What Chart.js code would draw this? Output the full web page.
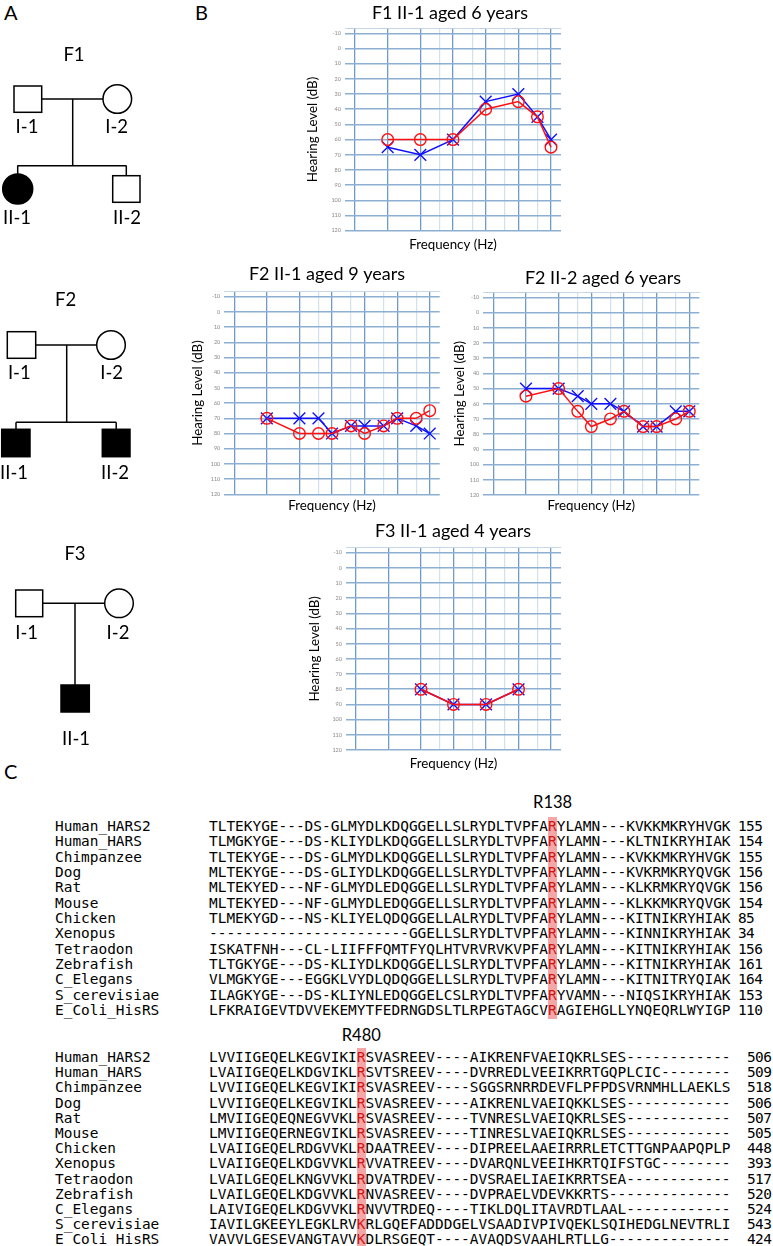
<!DOCTYPE html>
<html><head><meta charset="utf-8">
<script src="https://cdn.jsdelivr.net/npm/chart.js@4.4.1/dist/chart.umd.min.js"></script>
<style>
html,body{margin:0;padding:0;background:#fff;}
body{width:773px;height:1246px;position:relative;overflow:hidden;font-family:Lato,'Open Sans',sans-serif;}
.t{position:absolute;white-space:pre;color:#000;}
.panel{font-family:Lato,sans-serif;font-size:20px;line-height:20px;}
.mono{font-family:'DejaVu Sans Mono',monospace;font-size:14.45px;line-height:16px;}
.hlc{position:absolute;background:#f5a7a7;}
.red{color:#d01515;}
.site{font-family:Lato,sans-serif;font-size:16.5px;line-height:16px;}
</style></head><body>
<script>
// ---------------- DATA ----------------
const FREQ_VALUES = [125, 250, 500, 750, 1000, 1500, 2000, 3000, 4000, 6000, 8000];
const FREQ_LABELS = ['125', '250', '500', '750', '1K', '1.5K', '2K', '3K', '4K', '6K', '8K'];
const DB_TICKS = [-10, 0, 10, 20, 30, 40, 50, 60, 70, 80, 90, 100, 110, 120];

const f1_freq  = [250, 500, 1000, 2000, 4000, 6000, 8000];
const f1_right = [60, 60, 60, 40, 35, 45, 65];
const f1_left  = [65, 70, 60, 35, 30, 45, 60];

const f2a_freq  = [250, 500, 750, 1000, 1500, 2000, 3000, 4000, 6000, 8000];
const f2a_right = [70, 80, 80, 80, 75, 80, 75, 70, 70, 65];
const f2a_left  = [70, 70, 70, 80, 75, 75, 75, 70, 75, 80];

const f2b_freq  = [250, 500, 750, 1000, 1500, 2000, 3000, 4000, 6000, 8000];
const f2b_right = [55, 50, 65, 75, 70, 65, 75, 75, 70, 65];
const f2b_left  = [50, 50, 55, 60, 60, 65, 75, 75, 65, 65];

const f3_freq  = [500, 1000, 2000, 4000];
const f3_right = [80, 90, 90, 80];
const f3_left  = [80, 90, 90, 80];

const SPECIES = ['Human_HARS2','Human_HARS','Chimpanzee','Dog','Rat','Mouse','Chicken','Xenopus','Tetraodon','Zebrafish','C_Elegans','S_cerevisiae','E_Coli_HisRS'];
const SEQ1 = [
 'TLTEKYGE---DS-GLMYDLKDQGGELLSLRYDLTVPFARYLAMN---KVKKMKRYHVGK',
 'TLMGKYGE---DS-KLIYDLKDQGGELLSLRYDLTVPFARYLAMN---KLTNIKRYHIAK',
 'TLTEKYGE---DS-GLMYDLKDQGGELLSLRYDLTVPFARYLAMN---KVKKMKRYHVGK',
 'MLTEKYGE---DS-GLIYDLKDQGGELLSLRYDLTVPFARYLAMN---KVKRMKRYQVGK',
 'MLTEKYED---NF-GLMYDLEDQGGELLSLRYDLTVPFARYLAMN---KLKRMKRYQVGK',
 'MLTEKYED---NF-GLMYDLEDQGGELLSLRYDLTVPFARYLAMN---KLKKMKRYQVGK',
 'TLMEKYGD---NS-KLIYELQDQGGELLALRYDLTVPFARYLAMN---KITNIKRYHIAK',
 '-----------------------GGELLSLRYDLTVPFARYLAMN---KINNIKRYHIAK',
 'ISKATFNH---CL-LIIFFFQMTFYQLHTVRVRVKVPFARYLAMN---KITNIKRYHIAK',
 'TLTGKYGE---DS-KLIYDLKDQGGELLSLRYDLTVPFARYLAMN---KITNIKRYHIAK',
 'VLMGKYGE---EGGKLVYDLQDQGGELLSLRYDLTVPFARYLAMN---KITNITRYQIAK',
 'ILAGKYGE---DS-KLIYNLEDQGGELCSLRYDLTVPFARYVAMN---NIQSIKRYHIAK',
 'LFKRAIGEVTDVVEKEMYTFEDRNGDSLTLRPEGTAGCVRAGIEHGLLYNQEQRLWYIGP'];
const NUM1 = [155,154,155,156,156,154,85,34,156,161,164,153,110];
const SEQ2 = [
 'LVVIIGEQELKEGVIKIRSVASREEV----AIKRENFVAEIQKRLSES------------',
 'LVAIIGEQELKDGVIKLRSVTSREEV----DVRREDLVEEIKRRTGQPLCIC--------',
 'LVVIIGEQELKEGVIKIRSVASREEV----SGGSRNRRDEVFLPFPDSVRNMHLLAEKLS',
 'LVVIIGEQELKEGVIKLRSVASREEV----AIKRENLVAEIQKKLSES------------',
 'LMVIIGEQEQNEGVVKLRSVASREEV----TVNRESLVAEIQKRLSES------------',
 'LMVIIGEQERNEGVIKLRSVASREEV----TINRESLVAEIQKRLSES------------',
 'LVAIIGEQELRDGVVKLRDAATREEV----DIPREELAAEIRRRLETCTTGNPAAPQPLP',
 'LVAIIGEQELKDGVVKLRVVATREEV----DVARQNLVEEIHKRTQIFSTGC--------',
 'LVAILGEQELKNGVVKLRDVATRDEV----DVSRAELIAEIKRRTSEA------------',
 'LVAILGEQELKDGVVKLRNVASREEV----DVPRAELVDEVKKRTS--------------',
 'LAIVIGEQELKDGVVKLRNVVTRDEQ----TIKLDQLITAVRDTLAAL------------',
 'IAVILGKEEYLEGKLRVKRLGQEFADDDGELVSAADIVPIVQEKLSQIHEDGLNEVTRLI',
 'VAVVLGESEVANGTAVVKDLRSGEQT----AVAQDSVAAHLRTLLG--------------'];
const NUM2 = [506,509,518,506,507,505,448,393,517,520,524,543,424];

// ---------------- LAYOUT (page positions) ----------------
const LAYOUTS = {
  c1: {areaL:345,   areaR:561,   areaT:28.3,  areaB:230.7, titleCx:450, titleCy:13,  yTitleCx:313, xTitleCy:245},
  c2: {areaL:224.3, areaR:439.7, areaT:291.7, areaB:494.3, titleCx:327, titleCy:274, yTitleCx:198, xTitleCy:506},
  c3: {areaL:483.3, areaR:699.3, areaT:292.3, areaB:495,   titleCx:603, titleCy:278, yTitleCx:460, xTitleCy:506},
  c4: {areaL:346,   areaR:561,   areaT:547.7, areaB:750,   titleCx:453, titleCy:531, yTitleCx:315, xTitleCy:764}
};

Chart.defaults.font.family = "Lato, 'Open Sans', sans-serif";

const octave = f => Math.log2(f / 125);
const isOct = v => Math.abs(v - Math.round(v)) < 1e-6;
const X_MIN = -0.306, X_MAX = 6.306, Y_TOP = -13.3, Y_BOTTOM = 120;

function makeAudiogram(L, titleText, freqs, right, left) {
  const TITLE_SIZE = 18, TITLE_LH = TITLE_SIZE * 1.2;
  const AX_SIZE = 13.3, AX_LH = AX_SIZE * 1.2;
  const TICK_LH = 7;
  const Lc = Math.floor(L.yTitleCx - 14);
  const Wc = Math.round(2 * (L.titleCx - Lc));
  const Tc = Math.round(L.titleCy - TITLE_LH / 2 - 1);
  const titlePadTop = L.titleCy - Tc - TITLE_LH / 2;
  const hTop = L.areaT - Tc - TITLE_LH - titlePadTop;
  const Bc = Math.round(L.xTitleCy + 10);
  const Hc = Bc - Tc;
  const xTitlePadB = Bc - L.xTitleCy - AX_LH / 2;
  const hB = Bc - L.areaB;
  const wY = L.areaL - Lc;
  const wR = Lc + Wc - L.areaR;
  const yTitlePad = L.yTitleCx - Lc - AX_LH / 2;

  const cv = document.createElement('canvas');
  cv.width = Wc; cv.height = Hc;
  cv.style.cssText = `position:absolute;left:${Lc}px;top:${Tc}px;width:${Wc}px;height:${Hc}px;`;
  document.body.appendChild(cv);

  new Chart(cv, {
    type: 'line',
    data: {
      datasets: [
        {label: 'Right ear', data: freqs.map((f, i) => ({x: octave(f), y: right[i]})),
         borderColor: '#ff1010', borderWidth: 1.5, pointStyle: 'circle', pointRadius: 5.8,
         pointBorderWidth: 1.4, pointBorderColor: '#ff1010', pointBackgroundColor: 'rgba(0,0,0,0)',
         fill: false, tension: 0},
        {label: 'Left ear', data: freqs.map((f, i) => ({x: octave(f), y: left[i]})),
         borderColor: '#1010ff', borderWidth: 1.5, pointStyle: 'crossRot', pointRadius: 8.3,
         pointBorderWidth: 1.4, pointBorderColor: '#1010ff', pointBackgroundColor: '#1010ff',
         fill: false, tension: 0}
      ]
    },
    options: {
      responsive: false, animation: false, devicePixelRatio: 1,
      layout: {padding: 0},
      plugins: {
        legend: {display: false}, tooltip: {enabled: false},
        title: {display: true, text: titleText, color: '#000',
                font: {size: TITLE_SIZE, weight: 'normal', lineHeight: 1.2},
                padding: {top: titlePadTop, bottom: 0}}
      },
      scales: {
        x: {type: 'linear', position: 'top', min: X_MIN, max: X_MAX,
            afterBuildTicks: s => { s.ticks = FREQ_VALUES.map(f => ({value: octave(f)})); },
            afterFit: s => { s.height = hTop; },
            grid: {drawTicks: false,
                   color: c => isOct(c.tick.value) ? '#6f9cc6' : '#d2e1ee',
                   lineWidth: c => isOct(c.tick.value) ? 1.3 : 1.2},
            border: {display: true, color: '#c6d8ea', width: 1},
            ticks: {autoSkip: false, maxRotation: 0, minRotation: 0, padding: -(2.4 + 1.5 * TICK_LH),
                    labelOffset: -3, color: '#8a8a8a',
                    font: {size: 5.5, lineHeight: TICK_LH / 5.5},
                    callback: (v, i) => { const f = FREQ_VALUES[i]; const lb = FREQ_LABELS[i];
                      return isOct(octave(f)) ? [lb, ''] : [lb]; }}},
        xb: {type: 'linear', position: 'bottom', min: X_MIN, max: X_MAX,
             grid: {display: false}, border: {display: false}, ticks: {display: false},
             afterFit: s => { s.height = hB; },
             title: {display: true, text: 'Frequency (Hz)', color: '#000',
                     font: {size: AX_SIZE, lineHeight: 1.2}, padding: {top: 0, bottom: xTitlePadB}}},
        y: {type: 'linear', position: 'left', reverse: true, min: Y_TOP, max: Y_BOTTOM,
            afterBuildTicks: s => { s.ticks = DB_TICKS.map(v => ({value: v})); },
            afterFit: s => { s.width = wY; },
            grid: {drawTicks: false, color: '#8db0d2', lineWidth: 1.6},
            border: {display: false},
            ticks: {padding: 4, color: '#8a8a8a', font: {size: 5.5}},
            title: {display: true, text: 'Hearing Level (dB)', color: '#000',
                    font: {size: AX_SIZE, lineHeight: 1.2}, padding: {top: yTitlePad, bottom: 0}}},
        yr: {type: 'linear', position: 'right', grid: {display: false}, border: {display: false},
             ticks: {display: false}, afterFit: s => { s.width = wR; }}
      }
    }
  });
}

makeAudiogram(LAYOUTS.c1, 'F1 II-1 aged 6 years', f1_freq, f1_right, f1_left);
makeAudiogram(LAYOUTS.c2, 'F2 II-1 aged 9 years', f2a_freq, f2a_right, f2a_left);
makeAudiogram(LAYOUTS.c3, 'F2 II-2 aged 6 years', f2b_freq, f2b_right, f2b_left);
makeAudiogram(LAYOUTS.c4, 'F3 II-1 aged 4 years', f3_freq, f3_right, f3_left);

// ---------------- panel letters ----------------
function txt(s, x, y, cls, extra) {
  const d = document.createElement('div');
  d.className = 't ' + cls; d.textContent = s;
  d.style.left = x + 'px'; d.style.top = y + 'px';
  if (extra) d.style.cssText += extra;
  document.body.appendChild(d); return d;
}
txt('A', 4, 2, 'panel');
txt('B', 195, 2, 'panel');
txt('C', 4, 761, 'panel');

// ---------------- pedigrees (SVG) ----------------
const NS = 'http://www.w3.org/2000/svg';
const svg = document.createElementNS(NS, 'svg');
svg.setAttribute('width', '200'); svg.setAttribute('height', '760');
svg.style.cssText = 'position:absolute;left:0;top:0;';
document.body.appendChild(svg);
function el(tag, attrs) { const e = document.createElementNS(NS, tag);
  for (const k in attrs) e.setAttribute(k, attrs[k]); svg.appendChild(e); return e; }
const S = {stroke: '#000', 'stroke-width': 1.5};
function line(x1, y1, x2, y2) { el('line', Object.assign({x1, y1, x2, y2}, S)); }
function sq(x, y, w, h, filled) { el('rect', Object.assign({x, y, width: w, height: h, fill: filled ? '#000' : '#fff'}, S)); }
function circ(cx, cy, r, filled) { el('circle', Object.assign({cx, cy, r, fill: filled ? '#000' : '#fff'}, S)); }
function lab(s, x, y) { const t = el('text', {x, y, 'text-anchor': 'middle', 'dominant-baseline': 'central',
  'font-family': 'Lato, sans-serif', 'font-size': '18.5', fill: '#000'}); t.textContent = s; }

// F1
line(41.7, 99, 103, 99); line(72.7, 99, 72.7, 165.7); line(17.3, 165.7, 126.5, 165.7);
line(17.7, 165.7, 17.7, 174); line(126.3, 165.7, 126.3, 175.7);
sq(14, 86, 27.7, 26.3, false); circ(117.3, 99, 14.3, false);
circ(17.7, 189, 15, true); sq(112.7, 175.7, 27.3, 26.6, false);
lab('F1', 74, 54); lab('I-1', 27, 125.5); lab('I-2', 116.7, 125.5); lab('II-1', 17, 216.7); lab('II-2', 127, 216.7);
// F2
line(35.7, 345, 96.7, 345); line(66.7, 345, 66.7, 422.3); line(16, 422.3, 116.2, 422.3);
line(16, 422.3, 16, 429.3); line(116.2, 422.3, 116.2, 429.3);
sq(7.3, 331.7, 28.4, 26.6, false); circ(111, 345, 14.3, false);
sq(1.7, 429.3, 28.3, 27.4, true); sq(102.3, 429.3, 27.7, 27.4, true);
lab('F2', 65.7, 299.3); lab('I-1', 19.3, 371.7); lab('I-2', 111.7, 371.7); lab('II-1', 14, 471.7); lab('II-2', 115, 471.7);
// F3
line(42.7, 603.3, 104.7, 603.3); line(75, 603.3, 75, 685);
sq(15.7, 590, 27, 26.7, false); circ(119, 603.3, 14.3, false);
sq(61, 685, 28.3, 27, true);
lab('F3', 75, 553.3); lab('I-1', 26.7, 631.7); lab('I-2', 118, 631.7); lab('II-1', 76, 738);

// ---------------- alignment ----------------
const CW = 8.7, SEQ_X = 209, NAME_X = 55;
function block(seqs, nums, hl, y0, dy, site, siteY, numX) {
  const n = seqs.length;
  const hc = document.createElement('div'); hc.className = 'hlc';
  hc.style.cssText = `left:${SEQ_X + hl * CW}px;width:${CW}px;top:${y0 - 9}px;height:${(n - 1) * dy + 18}px;`;
  document.body.appendChild(hc);
  txt(site, SEQ_X + (hl + 0.5) * CW - 20, siteY - 8, 'site', 'width:40px;text-align:center;');
  for (let i = 0; i < n; i++) {
    const y = y0 + i * dy - 8;
    txt(SPECIES[i], NAME_X, y, 'mono');
    const d = document.createElement('div'); d.className = 't mono';
    d.style.left = SEQ_X + 'px'; d.style.top = y + 'px';
    const s = seqs[i];
    d.appendChild(document.createTextNode(s.slice(0, hl)));
    const sp = document.createElement('span'); sp.className = 'red'; sp.textContent = s[hl]; d.appendChild(sp);
    d.appendChild(document.createTextNode(s.slice(hl + 1)));
    document.body.appendChild(d);
    txt(String(nums[i]), numX, y, 'mono', 'letter-spacing:-0.6px;');
  }
}
block(SEQ1, NUM1, 39, 826, 15.33, 'R138', 802, 738);
block(SEQ2, NUM2, 17, 1057, 15.2, 'R480', 1035, 747);
</script>
</body></html>
